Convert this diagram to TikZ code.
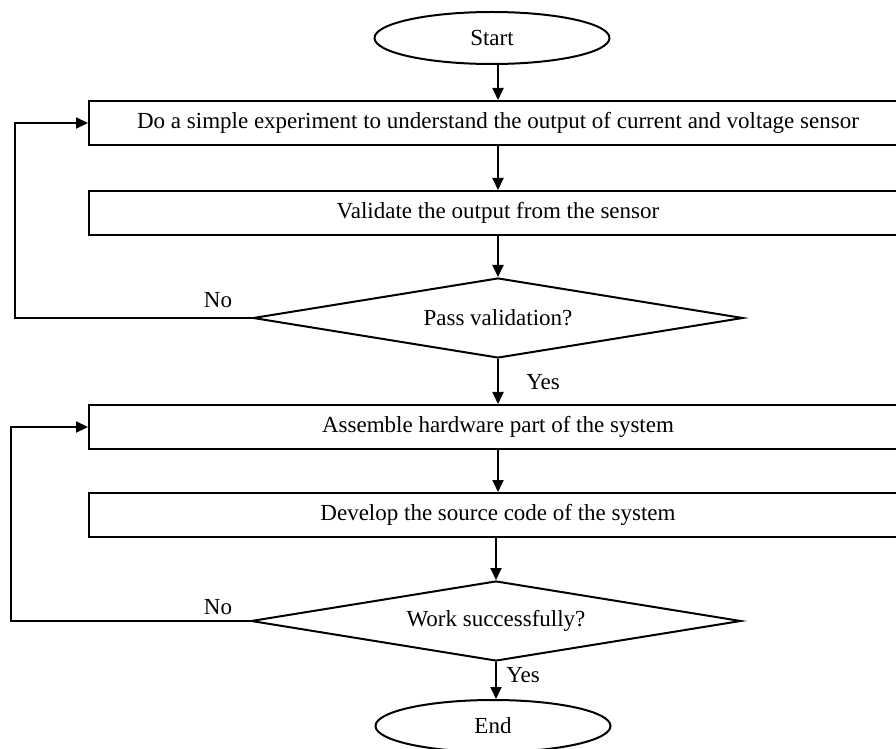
\documentclass[tikz,border=0pt]{standalone}
\usepackage{fontspec}
\setmainfont{Liberation Serif}
\usepackage{tikz}
\usetikzlibrary{%
arrows.meta,%
shapes.geometric,%
calc}

\begin{document}
\begin{tikzpicture}[x=0.5pt,y=-0.5pt,
    font=\fontsize{11.5}{14}\selectfont,
    line width=1pt,
    term/.style={draw,ellipse,inner sep=0pt,minimum width=117.5pt,minimum height=26pt},
    proc/.style={draw,rectangle,inner sep=0pt,minimum width=409pt,minimum height=22pt},
    decide/.style={draw,diamond,aspect=6.1,inner sep=0pt,minimum width=245pt,minimum height=40pt},
    flow/.style={-{Triangle[length=6pt,width=5.5pt]}}]
\clip (0,0) rectangle (896,749);

% nodes
\node[term] (start) at (492,38) {Start};
\node[proc] (exp) at (498,123) {Do a simple experiment to understand the output of current and voltage sensor};
\node[proc] (valid) at (498,213) {Validate the output from the sensor};
\node[decide] (pass) at (498,318) {Pass validation?};
\node[proc] (hw) at (498,427) {Assemble hardware part of the system};
\node[proc] (code) at (498,515) {Develop the source code of the system};
\node[decide] (work) at (496,621) {Work successfully?};
\node[term] (end) at (493,726) {End};

% main flow
\draw[flow] (exp.north |- start.south) -- (exp.north);
\draw[flow] (exp) -- (valid);
\draw[flow] (valid.south) -- (pass.north);
\draw[flow] (pass.south) -- (hw.north);
\draw[flow] (hw) -- (code);
\draw[flow] (work.north |- code.south) -- (work.north);
\draw[flow] (work.south) -- (work.south |- end.north);

% loops back
\coordinate (loopa) at (15,318);
\coordinate (loopb) at (11,621);
\draw[flow] (pass.west) -- (loopa) -- (loopa |- exp.west) -- (exp.west);
\draw[flow] (work.west) -- (loopb) -- (loopb |- hw.west) -- (hw.west);

% labels
\node (noa) at (218,300) {No};
\node (yesa) at (543,382) {Yes};
\node (nob) at (218,607) {No};
\node (yesb) at (523,675) {Yes};

\end{tikzpicture}
\end{document}
